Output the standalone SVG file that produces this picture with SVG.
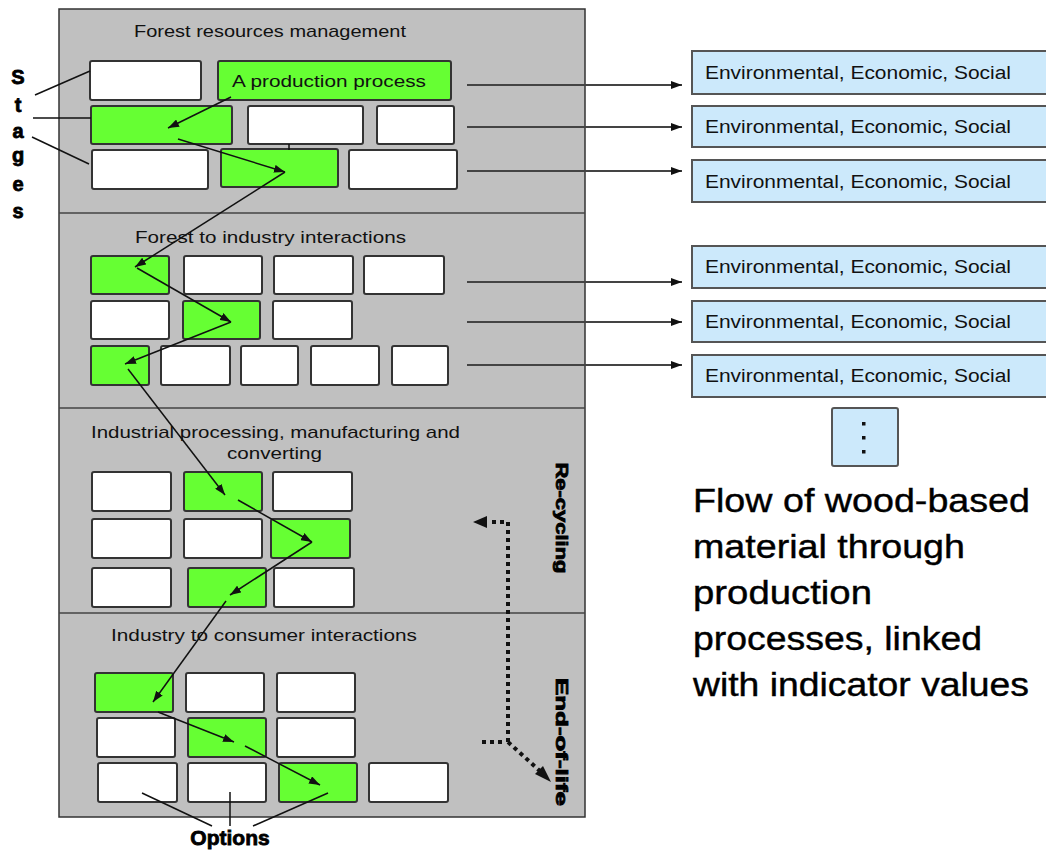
<svg xmlns="http://www.w3.org/2000/svg" width="1046" height="850" viewBox="0 0 1046 850">
  <style>
    .panel { fill: #c0c0c0; stroke: #333; stroke-width: 1.5; }
    .divider { stroke: #444; stroke-width: 1.5; }
    .box { fill: #ffffff; stroke: #333; stroke-width: 2; }
    .sel { fill: #66ff33; stroke: #333; stroke-width: 2; }
    .ind { fill: #cce9fb; stroke: #555; stroke-width: 2; }
    .lbl { font-family: "Liberation Sans", Arial, sans-serif; font-size: 17px; fill: #111; }
    .ind-txt { font-family: "Liberation Sans", Arial, sans-serif; font-size: 18px; fill: #111; }
    .big { font-family: "Liberation Sans", Arial, sans-serif; font-size: 33px; fill: #000; stroke: #000; stroke-width: 0.4; }
    .bold { font-family: "Liberation Sans", Arial, sans-serif; font-weight: bold; fill: #000; stroke: #000; stroke-width: 0.8; }
    .flow { stroke: #111; stroke-width: 1.5; fill: none; marker-end: url(#head); }
    .row { stroke: #444; stroke-width: 2; fill: none; marker-end: url(#head); }
    .pointer { stroke: #111; stroke-width: 1.5; fill: none; }
    .dots { stroke: #111; stroke-width: 4; stroke-dasharray: 4 4; fill: none; }
  </style>
  <defs>
    <marker id="head" markerUnits="userSpaceOnUse" markerWidth="11" markerHeight="8" refX="11" refY="4" orient="auto">
      <path d="M0,0 L11,4 L0,8 z" fill="#111"/>
    </marker>
  </defs>

  <!-- stage panel -->
  <g id="panel">
    <rect class="panel" x="59" y="9" width="526" height="808"/>
    <line class="divider" x1="59" y1="213" x2="585" y2="213"/>
    <line class="divider" x1="59" y1="408" x2="585" y2="408"/>
    <line class="divider" x1="59" y1="613" x2="585" y2="613"/>
  </g>

  <!-- stage 1: forest resources management -->
  <g id="stage-forest-resources">
    <text class="lbl" x="134" y="37" textLength="272" lengthAdjust="spacingAndGlyphs">Forest resources management</text>
    <rect class="box" x="90" y="61" width="111" height="39" rx="2"/>
    <rect class="sel" x="218" y="61" width="233" height="39" rx="2"/>
    <text class="lbl" x="232" y="87" textLength="194" lengthAdjust="spacingAndGlyphs">A production process</text>
    <rect class="sel" x="91" y="106" width="141" height="38" rx="2"/>
    <rect class="box" x="248" y="106" width="115" height="38" rx="2"/>
    <rect class="box" x="377" y="106" width="77" height="38" rx="2"/>
    <rect class="box" x="92" y="150" width="116" height="39" rx="2"/>
    <rect class="sel" x="221" y="149" width="117" height="38" rx="2"/>
    <rect class="box" x="349" y="150" width="108" height="39" rx="2"/>
  </g>

  <!-- stage 2: forest to industry interactions -->
  <g id="stage-forest-industry">
    <text class="lbl" x="135" y="243" textLength="271" lengthAdjust="spacingAndGlyphs">Forest to industry interactions</text>
    <rect class="sel" x="91" y="256" width="78" height="38" rx="2"/>
    <rect class="box" x="184" y="256" width="78" height="38" rx="2"/>
    <rect class="box" x="274" y="256" width="79" height="38" rx="2"/>
    <rect class="box" x="364" y="256" width="80" height="38" rx="2"/>
    <rect class="box" x="91" y="301" width="78" height="38" rx="2"/>
    <rect class="sel" x="183" y="301" width="77" height="38" rx="2"/>
    <rect class="box" x="273" y="301" width="79" height="38" rx="2"/>
    <rect class="sel" x="91" y="346" width="58" height="39" rx="2"/>
    <rect class="box" x="161" y="346" width="69" height="39" rx="2"/>
    <rect class="box" x="241" y="346" width="57" height="39" rx="2"/>
    <rect class="box" x="311" y="346" width="68" height="39" rx="2"/>
    <rect class="box" x="392" y="346" width="56" height="39" rx="2"/>
  </g>

  <!-- stage 3: industrial processing -->
  <g id="stage-processing">
    <text class="lbl" x="91" y="438" textLength="369" lengthAdjust="spacingAndGlyphs">Industrial processing, manufacturing and</text>
    <text class="lbl" x="227" y="459" textLength="95" lengthAdjust="spacingAndGlyphs">converting</text>
    <rect class="box" x="92" y="472" width="79" height="39" rx="2"/>
    <rect class="sel" x="184" y="472" width="78" height="39" rx="2"/>
    <rect class="box" x="273" y="472" width="79" height="39" rx="2"/>
    <rect class="box" x="92" y="519" width="79" height="39" rx="2"/>
    <rect class="box" x="184" y="519" width="78" height="39" rx="2"/>
    <rect class="sel" x="271" y="519" width="79" height="39" rx="2"/>
    <rect class="box" x="92" y="568" width="79" height="39" rx="2"/>
    <rect class="sel" x="188" y="568" width="78" height="39" rx="2"/>
    <rect class="box" x="274" y="568" width="80" height="39" rx="2"/>
    <text class="bold" font-size="16" transform="translate(556,518) rotate(90)" text-anchor="middle" textLength="111" lengthAdjust="spacingAndGlyphs">Re-cycling</text>
  </g>

  <!-- stage 4: industry to consumer interactions -->
  <g id="stage-consumer">
    <text class="lbl" x="111" y="641" textLength="306" lengthAdjust="spacingAndGlyphs">Industry to consumer interactions</text>
    <rect class="sel" x="95" y="673" width="78" height="39" rx="2"/>
    <rect class="box" x="186" y="673" width="78" height="39" rx="2"/>
    <rect class="box" x="277" y="673" width="78" height="39" rx="2"/>
    <rect class="box" x="97" y="718" width="78" height="39" rx="2"/>
    <rect class="sel" x="188" y="718" width="78" height="39" rx="2"/>
    <rect class="box" x="277" y="718" width="78" height="39" rx="2"/>
    <rect class="box" x="98" y="763" width="79" height="39" rx="2"/>
    <rect class="box" x="188" y="763" width="78" height="39" rx="2"/>
    <rect class="sel" x="279" y="763" width="78" height="39" rx="2"/>
    <rect class="box" x="369" y="763" width="79" height="39" rx="2"/>
    <text class="bold" font-size="16" transform="translate(556,742) rotate(90)" text-anchor="middle" textLength="128" lengthAdjust="spacingAndGlyphs">End-of-life</text>
  </g>

  <!-- side labels -->
  <g id="stages-label">
    <text class="bold" font-size="20" x="18" y="84" text-anchor="middle">S</text>
    <text class="bold" font-size="20" x="18" y="112" text-anchor="middle">t</text>
    <text class="bold" font-size="20" x="18" y="138" text-anchor="middle">a</text>
    <text class="bold" font-size="20" x="18" y="162" text-anchor="middle">g</text>
    <text class="bold" font-size="20" x="18" y="191" text-anchor="middle">e</text>
    <text class="bold" font-size="20" x="18" y="218" text-anchor="middle">s</text>
  </g>
  <g id="options-label">
    <text class="bold" font-size="21" x="230" y="845" text-anchor="middle">Options</text>
  </g>

  <!-- indicator boxes -->
  <g id="indicators">
    <rect class="ind" x="692" y="51" width="360" height="43"/>
    <text class="ind-txt" x="705" y="79" textLength="306" lengthAdjust="spacingAndGlyphs">Environmental, Economic, Social</text>
    <rect class="ind" x="692" y="106" width="360" height="41"/>
    <text class="ind-txt" x="705" y="133" textLength="306" lengthAdjust="spacingAndGlyphs">Environmental, Economic, Social</text>
    <rect class="ind" x="692" y="160" width="360" height="42"/>
    <text class="ind-txt" x="705" y="188" textLength="306" lengthAdjust="spacingAndGlyphs">Environmental, Economic, Social</text>
    <rect class="ind" x="692" y="246" width="360" height="42"/>
    <text class="ind-txt" x="705" y="273" textLength="306" lengthAdjust="spacingAndGlyphs">Environmental, Economic, Social</text>
    <rect class="ind" x="692" y="301" width="360" height="41"/>
    <text class="ind-txt" x="705" y="328" textLength="306" lengthAdjust="spacingAndGlyphs">Environmental, Economic, Social</text>
    <rect class="ind" x="692" y="355" width="360" height="42"/>
    <text class="ind-txt" x="705" y="382" textLength="306" lengthAdjust="spacingAndGlyphs">Environmental, Economic, Social</text>
    <rect class="ind" x="832" y="408" width="66" height="58" rx="2"/>
    <rect x="862" y="422" width="3.5" height="3.5" fill="#111"/>
    <rect x="862" y="436" width="3.5" height="3.5" fill="#111"/>
    <rect x="862" y="450" width="3.5" height="3.5" fill="#111"/>
  </g>

  <!-- caption -->
  <g id="caption">
    <text class="big" x="693" y="512" textLength="337" lengthAdjust="spacingAndGlyphs">Flow of wood-based</text>
    <text class="big" x="693" y="558" textLength="272" lengthAdjust="spacingAndGlyphs">material through</text>
    <text class="big" x="693" y="604" textLength="179" lengthAdjust="spacingAndGlyphs">production</text>
    <text class="big" x="693" y="650" textLength="289" lengthAdjust="spacingAndGlyphs">processes, linked</text>
    <text class="big" x="693" y="696" textLength="336" lengthAdjust="spacingAndGlyphs">with indicator values</text>
  </g>

  <!-- connectors -->
  <g id="connectors">
    <!-- material flow through selected processes -->
    <line class="flow" x1="231" y1="97" x2="168" y2="128"/>
    <line class="flow" x1="178" y1="139" x2="285" y2="172"/>
    <line class="flow" x1="285" y1="172" x2="135" y2="267"/>
    <line class="flow" x1="137" y1="268" x2="231" y2="322"/>
    <line class="flow" x1="231" y1="322" x2="125" y2="364"/>
    <line class="flow" x1="128" y1="369" x2="225" y2="495"/>
    <line class="flow" x1="238" y1="500" x2="312" y2="542"/>
    <line class="flow" x1="312" y1="542" x2="230" y2="595"/>
    <line class="flow" x1="226" y1="601" x2="153" y2="702"/>
    <line class="flow" x1="158" y1="712" x2="234" y2="742"/>
    <line class="flow" x1="245" y1="746" x2="320" y2="785"/>
    <line class="pointer" x1="289" y1="144" x2="289" y2="150"/>

    <!-- rows linked to indicator values -->
    <line class="row" x1="467" y1="85" x2="682" y2="85"/>
    <line class="row" x1="467" y1="127" x2="682" y2="127"/>
    <line class="row" x1="467" y1="171" x2="682" y2="171"/>
    <line class="row" x1="467" y1="282" x2="682" y2="282"/>
    <line class="row" x1="467" y1="322" x2="682" y2="322"/>
    <line class="row" x1="467" y1="365" x2="682" y2="365"/>

    <!-- stage pointers -->
    <line class="pointer" x1="35" y1="95" x2="90" y2="71"/>
    <line class="pointer" x1="33" y1="118" x2="91" y2="118"/>
    <line class="pointer" x1="32" y1="137" x2="89" y2="164"/>

    <!-- option pointers -->
    <line class="pointer" x1="142" y1="793" x2="212" y2="826"/>
    <line class="pointer" x1="230" y1="792" x2="230" y2="826"/>
    <line class="pointer" x1="328" y1="793" x2="253" y2="826"/>

    <!-- re-cycling and end-of-life loop -->
    <polyline class="dots" points="508,742 508,522 488,522"/>
    <path d="M473,522 L487,516 L487,528 z" fill="#111"/>
    <line class="dots" x1="482" y1="742" x2="506" y2="742"/>
    <line class="dots" x1="508" y1="742" x2="541" y2="772"/>
    <path d="M551,782 L535,774 L543,766 z" fill="#111"/>
  </g>
</svg>
